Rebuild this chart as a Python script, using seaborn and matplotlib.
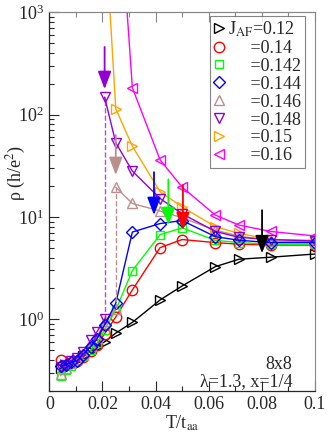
import numpy as np
import matplotlib
matplotlib.use('Agg')
import matplotlib.pyplot as plt
from matplotlib.lines import Line2D
from matplotlib.ticker import MultipleLocator, LogLocator, NullFormatter
import seaborn as sns

# Данные
T_low = [0.0042, 0.0063, 0.0083, 0.0104, 0.0125, 0.0156, 0.0179, 0.0208,
         0.025, 0.03125, 0.0417, 0.05, 0.0625, 0.0714, 0.0833, 0.1]
rho_012 = [0.33, 0.35, 0.37, 0.40, 0.44, 0.49, 0.54, 0.60,
           0.73, 0.93, 1.54, 2.11, 3.26, 3.85, 4.03, 4.33]
rho_014 = [0.40, 0.36, 0.37, 0.39, 0.43, 0.49, 0.56, 0.72,
           1.05, 1.93, 5.0, 6.0, 5.6, 5.4, 5.3, 5.3]
rho_0142 = [0.28, 0.32, 0.35, 0.39, 0.44, 0.50, 0.58, 0.79,
            1.23, 2.98, 6.7, 7.8, 5.9, 5.6, 5.4, 5.4]
rho_0144 = [0.345, 0.36, 0.38, 0.39, 0.45, 0.54, 0.64, 0.88,
            1.43, 7.1, 8.6, 9.2, 6.4, 5.9, 5.6, 5.6]

# J=0.146: нижняя и верхняя ветви
T_0146_lo = [0.0042, 0.0063, 0.0083, 0.0104, 0.0125, 0.0156, 0.0179, 0.0208, 0.025]
rho_0146_lo = [0.29, 0.33, 0.37, 0.41, 0.46, 0.55, 0.66, 0.95, 1.25]
T_0146_hi = [0.025, 0.03125, 0.0417, 0.05, 0.0625, 0.0714, 0.0833, 0.1]
rho_0146_hi = [19.5, 13.5, 11.4, 9.8, 7.4, 6.5, 5.8, 5.7]

# J=0.148: нижняя и верхняя ветви
T_0148_lo = [0.0042, 0.0063, 0.0083, 0.0104, 0.0125, 0.0156, 0.0179, 0.0208]
rho_0148_lo = [0.34, 0.36, 0.39, 0.42, 0.48, 0.62, 0.75, 1.0]
T_0148_hi = [0.0208, 0.025, 0.03125, 0.0417, 0.05, 0.0625, 0.0714, 0.0833, 0.1]
rho_0148_hi = [148, 53, 28, 15.1, 10.7, 7.2, 6.3, 6.0, 5.8]

T_015 = [0.0208, 0.025, 0.03125, 0.0417, 0.05, 0.0625, 0.0714, 0.0833, 0.1]
rho_015 = [8000, 114, 49, 17.6, 12.5, 8.0, 6.9, 6.0, 5.9]
T_016 = [0.025, 0.03125, 0.0417, 0.05, 0.0625, 0.0714, 0.0833, 0.1]
rho_016 = [40000, 183, 36, 19.5, 10.4, 8.3, 7.2, 6.5]

# Стрелки: T, начало, конец
arrow_T = [0.0208, 0.025, 0.0394, 0.0448, 0.0503, 0.0801]
arrow_tail = [457, 63, 27.3, 23.2, 20.4, 11.6]
arrow_tip = [177, 25.6, 10.4, 8.3, 7.4, 4.4]

J_labels = ['J$_{\\rm AF}$=0.12', '=0.14', '=0.142', '=0.144',
            '=0.146', '=0.148', '=0.15', '=0.16']

# Стили
C_BLACK, C_RED, C_GREEN, C_BLUE = 'black', 'red', '#00ff00', 'blue'
C_BROWN, C_PURPLE, C_ORANGE, C_MAG = '#bc8f8f', '#9400d3', '#ffa500', '#ff00ff'
arrow_colors = [C_PURPLE, C_BROWN, C_BLUE, C_GREEN, C_RED, C_BLACK]

sns.set_style('ticks')
plt.rcParams['font.family'] = ['Liberation Serif', 'DejaVu Serif']
plt.rcParams['mathtext.fontset'] = 'stix'
plt.rcParams['font.size'] = 13

fig = plt.figure(figsize=(3.27, 4.36), dpi=100)
ax = fig.add_axes([0.151, 0.104, 0.812, 0.868])

ms = 7.5
series = [
    (T_low, rho_012, C_BLACK, '>'),
    (T_low, rho_014, C_RED, 'o'),
    (T_low, rho_0142, C_GREEN, 's'),
    (T_low, rho_0144, C_BLUE, 'D'),
    (T_0146_lo, rho_0146_lo, C_BROWN, '^'),
    (T_0146_hi, rho_0146_hi, C_BROWN, '^'),
    (T_0148_lo, rho_0148_lo, C_PURPLE, 'v'),
    (T_0148_hi, rho_0148_hi, C_PURPLE, 'v'),
    (T_015, rho_015, C_ORANGE, '>'),
    (T_016, rho_016, C_MAG, '<'),
]
order = [0, 1, 2, 4, 6, 8, 9, 5, 7, 3]
for i in order:
    x, y, c, m = series[i]
    size = ms * 0.85 if m in ('D', 's') else ms
    sns.lineplot(x=x, y=y, ax=ax, color=c, marker=m, markersize=size,
                 markerfacecolor='none', markeredgecolor=c, markeredgewidth=1.0,
                 linewidth=1.0, sort=False, estimator=None, legend=False)

# Пунктирные скачки
sns.lineplot(x=[T_0148_lo[-1], T_0148_hi[0]], y=[rho_0148_lo[-1], rho_0148_hi[0]],
             ax=ax, color=C_PURPLE, linestyle='--', linewidth=1.0, alpha=0.7,
             sort=False, estimator=None, legend=False)
sns.lineplot(x=[T_0146_lo[-1], T_0146_hi[0]], y=[rho_0146_lo[-1], rho_0146_hi[0]],
             ax=ax, color=C_BROWN, linestyle='--', linewidth=1.0,
             sort=False, estimator=None, legend=False)

for t, a, b, c in zip(arrow_T, arrow_tail, arrow_tip, arrow_colors):
    ax.annotate('', xy=(t, b), xytext=(t, a),
                arrowprops=dict(arrowstyle='-|>,head_width=0.34,head_length=0.9',
                                mutation_scale=12, color=c, lw=1.3,
                                shrinkA=0, shrinkB=0))

ax.set_yscale('log')
ax.set_xlim(0, 0.1)
ax.set_ylim(0.2, 1000)
ax.set_xticks([0, 0.02, 0.04, 0.06, 0.08, 0.1])
ax.set_xticklabels(['0', '0.02', '0.04', '0.06', '0.08', '0.1'])
ax.xaxis.set_minor_locator(MultipleLocator(0.01))
ax.yaxis.set_major_locator(LogLocator(base=10, numticks=10))
ax.yaxis.set_minor_locator(LogLocator(base=10, subs=np.arange(2, 10), numticks=20))
ax.yaxis.set_minor_formatter(NullFormatter())
ax.tick_params(which='both', direction='in', top=False, right=False, labelsize=13, pad=4)
ax.tick_params(which='major', length=7, width=0.8)
ax.tick_params(which='minor', length=3.5, width=0.8)

top = ax.secondary_xaxis('top')
top.xaxis.set_major_locator(MultipleLocator(0.02))
top.xaxis.set_minor_locator(MultipleLocator(0.01))
top.tick_params(which='both', direction='in', labeltop=False, color='#888888', width=0.8)
top.tick_params(which='major', length=7)
top.tick_params(which='minor', length=3.5)
top.spines['top'].set_color('#888888')
ax.spines['top'].set_color('#888888')
ax.spines['right'].set_color('#888888')
for s in ['left', 'bottom']:
    ax.spines[s].set_linewidth(0.9)

ax.set_xlabel('T/t$_{\\rm aa}$', fontsize=13, labelpad=0)
ax.set_ylabel('ρ (h/e$^2$)', fontsize=13)
ax.yaxis.set_label_coords(-0.08, 0.575)

handles = []
for i in [0, 1, 2, 3, 4, 6, 8, 9]:
    x, y, c, m = series[i]
    size = ms * 0.85 if m in ('D', 's') else ms
    handles.append(Line2D([], [], linestyle='none', marker=m, markersize=size,
                          markerfacecolor='none', markeredgecolor=c, markeredgewidth=1.0))
labels = [J_labels[0]] + ['     ' + s for s in J_labels[1:]]
leg = ax.legend(handles, labels, loc='upper right', bbox_to_anchor=(0.962, 0.99),
                fontsize=13, frameon=True, fancybox=False, edgecolor='#666666',
                handlelength=0.6, handletextpad=0.2, labelspacing=0.05,
                borderpad=0.2, borderaxespad=0)
leg.get_frame().set_linewidth(0.8)

ax.text(0.0915, 0.36, '8x8', ha='right', va='center', fontsize=13)
ax.text(0.0915, 0.243, 'λ=1.3, x=1/4', ha='right', va='center', fontsize=13)

fig.savefig('out.png', dpi=100)
